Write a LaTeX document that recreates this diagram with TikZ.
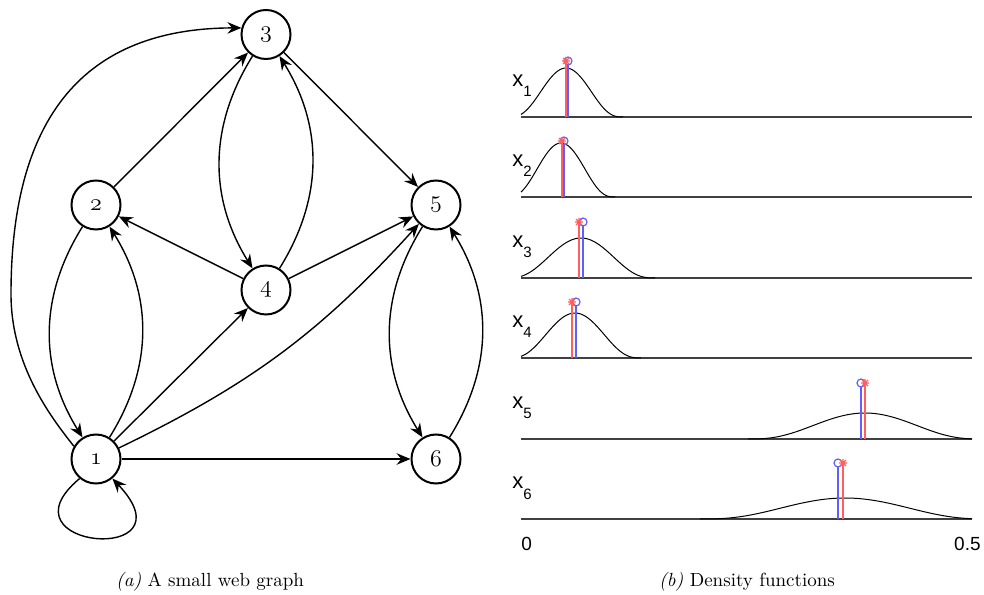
\documentclass[tikz,border=0pt]{standalone}
\usepackage{fontspec}
\newfontfamily\helv{Liberation Sans}
\usetikzlibrary{arrows.meta}
\definecolor{stemred}{RGB}{255,95,95}
\definecolor{stemblue}{RGB}{95,95,255}
% old-style figures taken from the math italic font
\newcommand{\osf}[1]{{\usefont{OML}{cmm}{m}{it}#1}}
% one pair of stems: blue x, red x, baseline, marker height
\newcommand{\stempair}[4]{%
  \draw[stemblue,stemline] (#1,#3) -- (#1,#4-4);
  \draw[stemblue,stemline] (#1,#4) circle[radius=4];
  \draw[stemred,stemline] (#2,#3) -- (#2,#4);
  \draw[stemred,stemline] (#2-4,#4) -- (#2+4,#4) (#2,#4-4) -- (#2,#4+4)
     (#2-3,#4-3) -- (#2+3,#4+3) (#2-3,#4+3) -- (#2+3,#4-3);}
% one density curve: mean, half support, height, baseline, domain
\newcommand{\bump}[6]{%
  \draw[density] plot[domain=#5:#6,samples=80] (\x,{#4+#3*(1-((\x-#1)/#2)^2)^3});}
\begin{document}
\begin{tikzpicture}[x=0.5pt,y=0.5pt,
  vertex/.style={circle,draw,line width=1pt,minimum size=24.5pt,inner sep=0pt,
    font=\fontsize{11.5}{13}\selectfont},
  link/.style={line width=0.7pt,-{Stealth[length=7pt,width=5.8pt,inset=2.4pt]}},
  baseaxis/.style={line width=0.65pt,draw=black!75},
  density/.style={line width=0.5pt,black},
  stemline/.style={line width=0.6pt},
  varlabel/.style={inner sep=0pt,anchor=base west,font=\helv\fontsize{11}{13}\selectfont},
  ticklabel/.style={inner sep=0pt,font=\helv\fontsize{9.5}{11}\selectfont},
  caption/.style={inner sep=0pt,anchor=base,font=\fontsize{9.5}{11}\selectfont}]
\useasboundingbox (0,0) rectangle (984,594);

% ---------------- web graph ----------------
\node[vertex] (n1) at (96,135) {\osf{1}};
\node[vertex] (n2) at (96,389) {\osf{2}};
\node[vertex] (n3) at (266,559.5) {\osf{3}};
\node[vertex] (n4) at (266,304) {\osf{4}};
\node[vertex] (n5) at (436,389) {\osf{5}};
\node[vertex] (n6) at (436,135) {\osf{6}};
\coordinate (wp) at (11,300);

\draw[link] (n1.150) .. controls (49.6,178.3) and (11,230) .. (wp)
            .. controls (11,478) and (85,565.8) .. (n3.165);
\draw[link] (n2) -- (n3);
\draw[link] (n3) -- (n5);
\draw[link] (n3) to[bend right=32] (n4);
\draw[link] (n4) to[bend right=32] (n3);
\draw[link] (n4) -- (n2);
\draw[link] (n4) -- (n5);
\draw[link] (n2) to[bend right=32] (n1);
\draw[link] (n1) to[bend right=32] (n2);
\draw[link] (n1) -- (n4);
\draw[link] (n1) to[bend right=11] (n5);
\draw[link] (n1) -- (n6);
\draw[link] (n5) to[bend right=32] (n6);
\draw[link] (n6) to[bend right=32] (n5);
\draw[link] (n1.230) .. controls (-5,45) and (195,28) .. (n1.310);

\node[caption] (capa) at (210,8) {\textit{(a)} A small web graph};

% ---------------- density functions ----------------
\foreach \yb in {477,397,316,236,155,75}
  \draw[baseaxis] (521,\yb) -- (972,\yb);

\bump{566}{57}{49}{477}{521}{623}
\bump{561}{54}{54}{397}{521}{615}
\bump{581}{74}{40}{316}{521}{655}
\bump{575}{66}{45}{236}{521}{641}
\bump{865}{117}{26}{155}{748}{972}
\bump{845}{145}{21}{75}{700}{972}

\stempair{568}{566}{477}{533}
\stempair{564}{562}{397}{453}
\stempair{583}{579}{316}{372}
\stempair{576}{572}{236}{292}
\stempair{861}{865}{155}{211}
\stempair{838}{843}{75}{131}

\node[varlabel] (x1) at (512,507) {x\raisebox{-5pt}{\fontsize{7.5}{9}\selectfont 1}};
\node[varlabel] (x2) at (512,427) {x\raisebox{-5pt}{\fontsize{7.5}{9}\selectfont 2}};
\node[varlabel] (x3) at (512,346) {x\raisebox{-5pt}{\fontsize{7.5}{9}\selectfont 3}};
\node[varlabel] (x4) at (512,266) {x\raisebox{-5pt}{\fontsize{7.5}{9}\selectfont 4}};
\node[varlabel] (x5) at (512,185) {x\raisebox{-5pt}{\fontsize{7.5}{9}\selectfont 5}};
\node[varlabel] (x6) at (512,105) {x\raisebox{-5pt}{\fontsize{7.5}{9}\selectfont 6}};

\node[ticklabel,anchor=base west] (t0) at (521,44) {0};
\node[ticklabel,anchor=base east] (t5) at (981,44) {0.5};

\node[caption] (capb) at (747,8) {\textit{(b)} Density functions};
\end{tikzpicture}
\end{document}
